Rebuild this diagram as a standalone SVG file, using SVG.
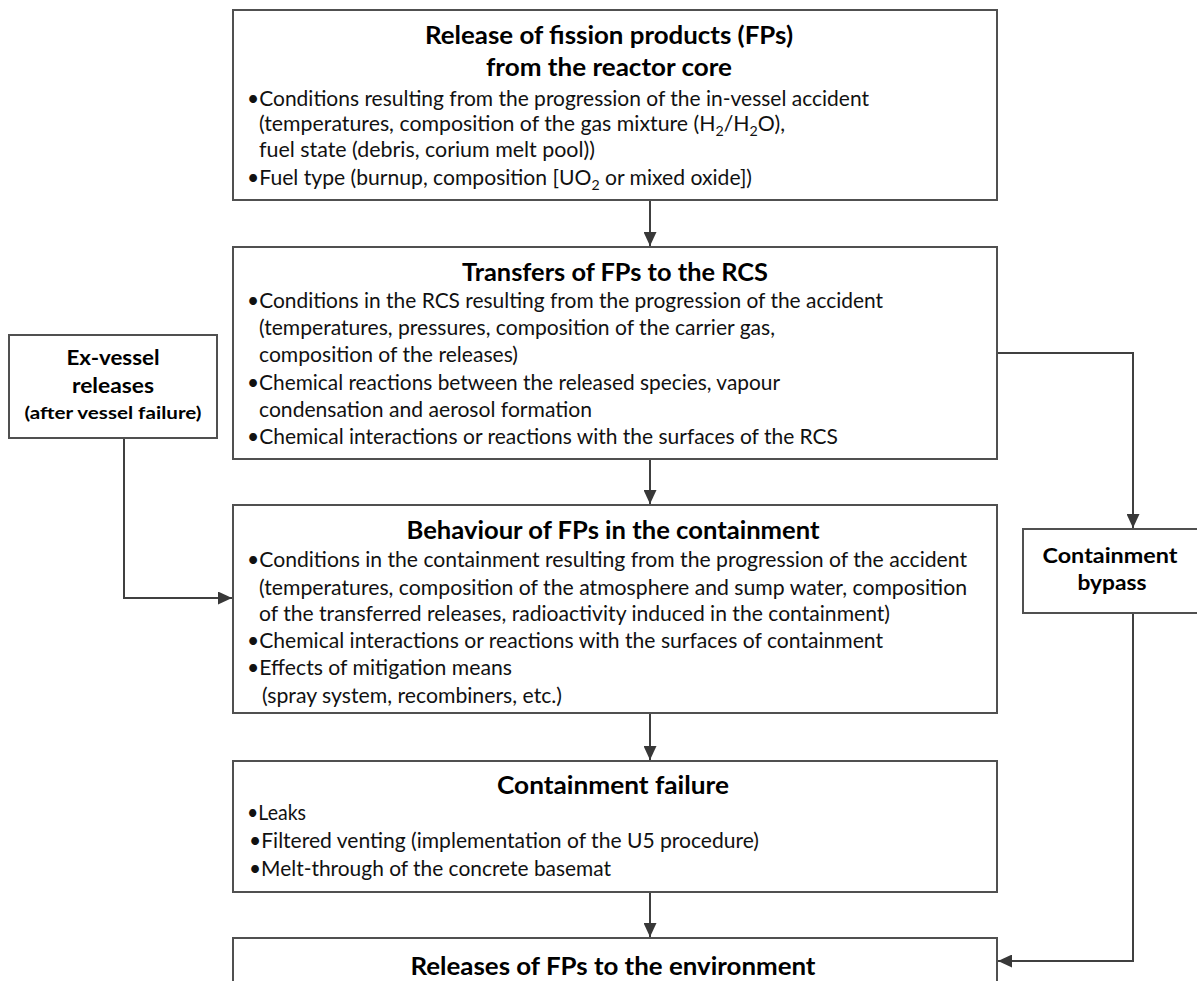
<svg xmlns="http://www.w3.org/2000/svg" width="1197" height="981" viewBox="0 0 1197 981">
<style>
.box{fill:#fff;stroke:#505050;stroke-width:2}
.t{font-family:Lato,"Open Sans",sans-serif;font-weight:bold;font-size:24px;fill:#000;text-anchor:middle}
.b{font-family:Lato,"Open Sans",sans-serif;font-size:21px;fill:#111}
.s{font-family:Lato,"Open Sans",sans-serif;font-weight:bold;font-size:21px;fill:#000;text-anchor:middle}
.ss{font-family:Lato,"Open Sans",sans-serif;font-weight:bold;font-size:17px;fill:#000;text-anchor:middle}
.c{fill:none;stroke:#404040;stroke-width:2}
</style>
<defs>
<marker id="ah" markerWidth="14" markerHeight="13" refX="14" refY="6.5" orient="auto" markerUnits="userSpaceOnUse">
<path d="M0,0 L14,6.5 L0,13 Z" fill="#383838"/>
</marker>
</defs>
<g id="connectors">
<path class="c" d="M650,200 V246" marker-end="url(#ah)"/>
<path class="c" d="M650,459 V504" marker-end="url(#ah)"/>
<path class="c" d="M650,713 V760" marker-end="url(#ah)"/>
<path class="c" d="M650,892 V937" marker-end="url(#ah)"/>
<path class="c" d="M997,353 H1133 V528" marker-end="url(#ah)"/>
<path class="c" d="M1133,613 V961 H998" marker-end="url(#ah)"/>
<path class="c" d="M124,438 V598 H232" marker-end="url(#ah)"/>
</g>
<g id="release-core">
<rect class="box" x="233" y="10" width="764" height="190"/>
<text class="t" x="609" y="44" textLength="368" lengthAdjust="spacingAndGlyphs">Release of fission products (FPs)</text>
<text class="t" x="609" y="76" textLength="246" lengthAdjust="spacingAndGlyphs">from the reactor core</text>
<text class="b" x="247" y="106" textLength="622" lengthAdjust="spacingAndGlyphs">•Conditions resulting from the progression of the in-vessel accident</text>
<text class="b" x="259" y="131" textLength="526" lengthAdjust="spacingAndGlyphs">(temperatures, composition of the gas mixture (H<tspan font-size="14" dy="5">2</tspan><tspan dy="-5">/H</tspan><tspan font-size="14" dy="5">2</tspan><tspan dy="-5">O),</tspan></text>
<text class="b" x="259" y="157" textLength="336" lengthAdjust="spacingAndGlyphs">fuel state (debris, corium melt pool))</text>
<text class="b" x="247" y="185" textLength="505" lengthAdjust="spacingAndGlyphs">•Fuel type (burnup, composition [UO<tspan font-size="14" dy="5">2</tspan><tspan dy="-5"> or mixed oxide])</tspan></text>
</g>
<g id="transfers-rcs">
<rect class="box" x="233" y="247" width="764" height="212"/>
<text class="t" x="615" y="281" textLength="306" lengthAdjust="spacingAndGlyphs">Transfers of FPs to the RCS</text>
<text class="b" x="247" y="308" textLength="636" lengthAdjust="spacingAndGlyphs">•Conditions in the RCS resulting from the progression of the accident</text>
<text class="b" x="259" y="335" textLength="516" lengthAdjust="spacingAndGlyphs">(temperatures, pressures, composition of the carrier gas,</text>
<text class="b" x="259" y="362" textLength="259" lengthAdjust="spacingAndGlyphs">composition of the releases)</text>
<text class="b" x="247" y="390" textLength="533" lengthAdjust="spacingAndGlyphs">•Chemical reactions between the released species, vapour</text>
<text class="b" x="259" y="417" textLength="333" lengthAdjust="spacingAndGlyphs">condensation and aerosol formation</text>
<text class="b" x="247" y="444" textLength="591" lengthAdjust="spacingAndGlyphs">•Chemical interactions or reactions with the surfaces of the RCS</text>
</g>
<g id="behaviour-containment">
<rect class="box" x="233" y="505" width="764" height="208"/>
<text class="t" x="613" y="539" textLength="413" lengthAdjust="spacingAndGlyphs">Behaviour of FPs in the containment</text>
<text class="b" x="247" y="567" textLength="720" lengthAdjust="spacingAndGlyphs">•Conditions in the containment resulting from the progression of the accident</text>
<text class="b" x="259" y="595" textLength="708" lengthAdjust="spacingAndGlyphs">(temperatures, composition of the atmosphere and sump water, composition</text>
<text class="b" x="259" y="621" textLength="631" lengthAdjust="spacingAndGlyphs">of the transferred releases, radioactivity induced in the containment)</text>
<text class="b" x="247" y="648" textLength="636" lengthAdjust="spacingAndGlyphs">•Chemical interactions or reactions with the surfaces of containment</text>
<text class="b" x="247" y="675" textLength="265" lengthAdjust="spacingAndGlyphs">•Effects of mitigation means</text>
<text class="b" x="262" y="703" textLength="300" lengthAdjust="spacingAndGlyphs">(spray system, recombiners, etc.)</text>
</g>
<g id="containment-failure">
<rect class="box" x="233" y="761" width="764" height="131"/>
<text class="t" x="613" y="794" textLength="232" lengthAdjust="spacingAndGlyphs">Containment failure</text>
<text class="b" x="247" y="820" textLength="59" lengthAdjust="spacingAndGlyphs">•Leaks</text>
<text class="b" x="249" y="848" textLength="510" lengthAdjust="spacingAndGlyphs">•Filtered venting (implementation of the U5 procedure)</text>
<text class="b" x="249" y="876" textLength="362" lengthAdjust="spacingAndGlyphs">•Melt-through of the concrete basemat</text>
</g>
<g id="releases-environment">
<rect class="box" x="233" y="938" width="764" height="80"/>
<text class="t" x="613" y="975" textLength="405" lengthAdjust="spacingAndGlyphs">Releases of FPs to the environment</text>
</g>
<g id="ex-vessel">
<rect class="box" x="9" y="335" width="208" height="103"/>
<text class="s" x="113" y="365" textLength="93" lengthAdjust="spacingAndGlyphs">Ex-vessel</text>
<text class="s" x="113" y="393" textLength="82" lengthAdjust="spacingAndGlyphs">releases</text>
<text class="ss" x="113" y="419" textLength="177" lengthAdjust="spacingAndGlyphs">(after vessel failure)</text>
</g>
<g id="containment-bypass">
<rect class="box" x="1023" y="529" width="190" height="84"/>
<text class="s" x="1110" y="563" textLength="135" lengthAdjust="spacingAndGlyphs">Containment</text>
<text class="s" x="1112" y="590" textLength="69" lengthAdjust="spacingAndGlyphs">bypass</text>
</g>
</svg>
